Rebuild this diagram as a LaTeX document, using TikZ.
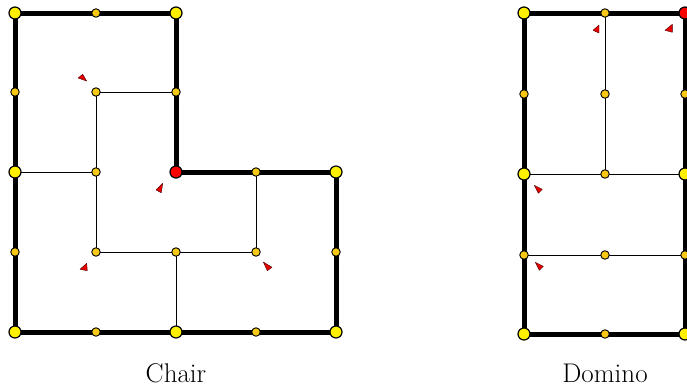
\documentclass[tikz,border=0pt]{standalone}
\usetikzlibrary{backgrounds}
\definecolor{bigyellow}{RGB}{255,240,0}
\definecolor{smallyellow}{RGB}{248,200,20}
\definecolor{markred}{RGB}{230,0,0}
\begin{document}
\begin{tikzpicture}[x=1pt,y=-1pt,
  bigdot/.style={circle,draw=black,line width=1.2pt,fill=bigyellow,inner sep=0pt,minimum size=12pt},
  smalldot/.style={circle,draw=black,line width=0.9pt,fill=smallyellow,inner sep=0pt,minimum size=8.5pt},
  reddot/.style={circle,draw=black,line width=1.2pt,fill=red,inner sep=0pt,minimum size=12pt},
  thickedge/.style={line width=5pt,black},
  thinedge/.style={line width=1pt,black},
  marker/.style={fill=markred,draw=black!70!red,line width=0.4pt,line join=round},
  caption/.style={font=\fontsize{27}{32}\selectfont}]
\useasboundingbox (0,0) rectangle (687,391);
% Chair
\node[bigdot] (c1) at (15,13) {};
\node[smalldot] (c2) at (96,13) {};
\node[bigdot] (c3) at (176,13) {};
\node[smalldot] (c4) at (176,92) {};
\node[reddot] (c5) at (176,172) {};
\node[smalldot] (c6) at (256,172) {};
\node[bigdot] (c7) at (336,172) {};
\node[smalldot] (c8) at (336,252) {};
\node[bigdot] (c9) at (336,332) {};
\node[smalldot] (c10) at (256,332) {};
\node[bigdot] (c11) at (176,332) {};
\node[smalldot] (c12) at (96,332) {};
\node[bigdot] (c13) at (15,332) {};
\node[smalldot] (c14) at (15,252) {};
\node[bigdot] (c15) at (15,172) {};
\node[smalldot] (c16) at (15,92) {};
\node[smalldot] (i1) at (96,92) {};
\node[smalldot] (i2) at (96,172) {};
\node[smalldot] (i3) at (96,252) {};
\node[smalldot] (i4) at (176,252) {};
\node[smalldot] (i5) at (256,252) {};
% Domino
\node[bigdot] (d1) at (524,13) {};
\node[smalldot] (d2) at (605,13) {};
\node[reddot] (d3) at (685,13) {};
\node[smalldot] (d4) at (685,94) {};
\node[bigdot] (d5) at (685,174) {};
\node[smalldot] (d6) at (685,255) {};
\node[bigdot] (d7) at (685,334) {};
\node[smalldot] (d8) at (605,334) {};
\node[bigdot] (d9) at (524,334) {};
\node[smalldot] (d10) at (524,255) {};
\node[bigdot] (d11) at (524,174) {};
\node[smalldot] (d12) at (524,94) {};
\node[smalldot] (e1) at (605,94) {};
\node[smalldot] (e2) at (605,174) {};
\node[smalldot] (e3) at (605,255) {};
\begin{scope}[on background layer]
  \draw[thickedge,line join=miter] (c1.center) -- (c3.center) -- (c5.center) -- (c7.center) -- (c9.center) -- (c13.center) -- cycle;
  \draw[thinedge] (i1.center) -- (c4.center);
  \draw[thinedge] (i1.center) -- (i3.center);
  \draw[thinedge] (c15.center) -- (i2.center);
  \draw[thinedge] (i3.center) -- (i5.center);
  \draw[thinedge] (c6.center) -- (i5.center);
  \draw[thinedge] (i4.center) -- (c11.center);
  \draw[thickedge,line join=miter] (d1.center) -- (d3.center) -- (d7.center) -- (d9.center) -- cycle;
  \draw[thinedge] (d2.center) -- (e2.center);
  \draw[thinedge] (d11.center) -- (d5.center);
  \draw[thinedge] (d10.center) -- (d6.center);
\end{scope}
% markers
\filldraw[marker] (78,78) -- (82.7,74.3) -- (86.7,81) -- cycle;
\filldraw[marker] (156,190) -- (162.7,183.3) -- (161.3,192.7) -- cycle;
\filldraw[marker] (80,269.3) -- (86.7,263.3) -- (87.3,270.7) -- cycle;
\filldraw[marker] (263.3,262) -- (272,267.3) -- (267.3,270.7) -- cycle;
\filldraw[marker] (593,30.3) -- (599,25) -- (599,33) -- cycle;
\filldraw[marker] (665,30.3) -- (672.3,24.3) -- (672.3,32.3) -- cycle;
\filldraw[marker] (534.3,185.3) -- (542.3,189.3) -- (538.3,193.3) -- cycle;
\filldraw[marker] (535.3,262.3) -- (543.3,266.3) -- (539.3,270.3) -- cycle;
% captions
\node[caption] (lchair) at (176,373) {Chair};
\node[caption] (ldomino) at (605,373) {Domino};
\end{tikzpicture}
\end{document}
